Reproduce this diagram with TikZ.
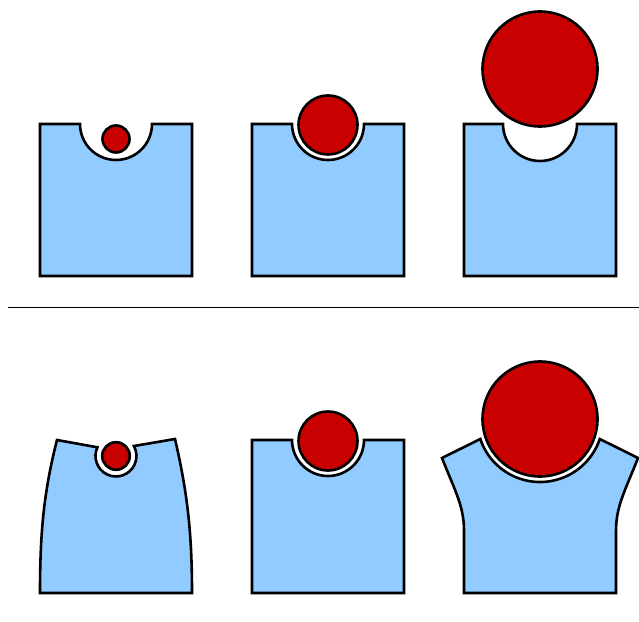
\documentclass[tikz,border=0pt]{standalone}
\usepackage{tikz}
\definecolor{blockblue}{RGB}{145,203,255}
\definecolor{ballred}{RGB}{200,0,0}
\usetikzlibrary{calc}

\begin{document}
\begin{tikzpicture}[
  x=1pt, y=1pt,
  block/.style={
    draw=black, line width=2.6pt,
    fill=blockblue
  },
  ball/.style={draw=black, line width=2.6pt, fill=ballred},
  divider/.style={draw=black, line width=1pt}
]
\useasboundingbox (0,0) rectangle (639,621);

% top row: rigid blocks
\draw[block] (40,345) -- (40,497) -- (80,497)
  arc[start angle=180, end angle=360, radius=36] -- (192,497) -- (192,345) -- cycle;
\draw[ball] (116,482) circle[radius=13.5];

\draw[block] (252,345) -- (252,497) -- (292,497)
  arc[start angle=180, end angle=360, radius=36] -- (404,497) -- (404,345) -- cycle;
\draw[ball] (328,496) circle[radius=29.5];

\draw[block] (464,345) -- (464,497) -- (503,497)
  arc[start angle=180, end angle=360, radius=37] -- (616,497) -- (616,345) -- cycle;
\draw[ball] (540,552) circle[radius=57.5];

% separator
\coordinate (sepL) at (8,313);
\coordinate (sepR) at (639,313);
\draw[divider] (sepL) -- (sepR);

% bottom row: deformed blocks
\draw[block] (40,28) .. controls (40,90) and (44,130) .. (57,181) -- (97.4,173.7)
  arc[start angle=155, end angle=389, radius=20.5] -- (175,182)
  .. controls (187,130) and (192,90) .. (192,28) -- cycle;
\draw[ball] (116,165) circle[radius=13.8];

\draw[block] (252,28) -- (252,181) -- (292,181)
  arc[start angle=180, end angle=360, radius=36] -- (404,181) -- (404,28) -- cycle;
\draw[ball] (328,180) circle[radius=29.5];

\draw[block] (464,28) -- (464,90) .. controls (464,115) and (455,130) .. (442,163)
  -- (480.3,182) arc[start angle=198.5, end angle=341.5, radius=63] -- (638,163)
  .. controls (625,130) and (616,115) .. (616,90) -- (616,28) -- cycle;
\draw[ball] (540,202) circle[radius=57.5];
\end{tikzpicture}
\end{document}
